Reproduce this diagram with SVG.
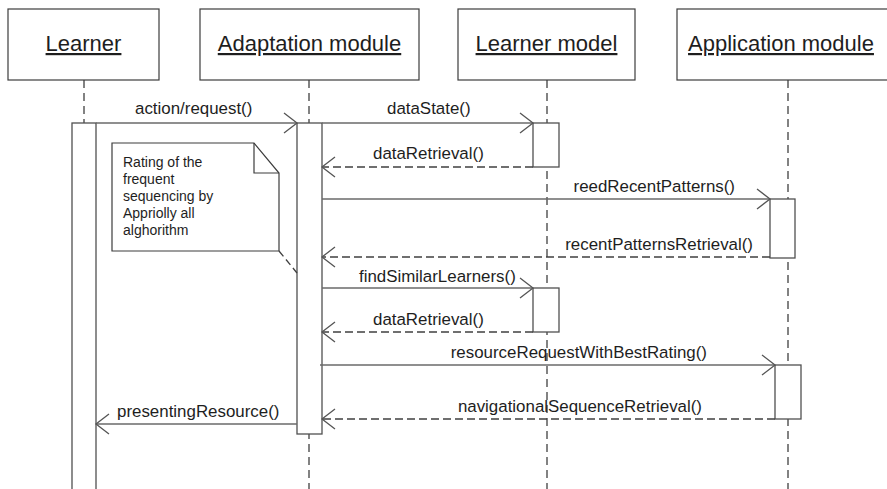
<svg xmlns="http://www.w3.org/2000/svg" width="887" height="489" viewBox="0 0 887 489">
<defs>
<style>
.box{fill:#fff;stroke:#3c3c3c;stroke-width:1.2}
.act{fill:#fff;stroke:#505050;stroke-width:1.3}
.life{stroke:#404040;stroke-width:1.3;stroke-dasharray:8,5;fill:none}
.msg{stroke:#6a6a6a;stroke-width:1.3;fill:none}
.ret{stroke:#404040;stroke-width:1.3;stroke-dasharray:8,4;fill:none}
.hd{font-family:"Liberation Sans",Arial,sans-serif;font-size:22px;fill:#1e1e1e;text-anchor:middle;text-decoration:underline}
.lb{font-family:"Liberation Sans",Arial,sans-serif;font-size:16.9px;fill:#1e1e1e}
.nt{font-family:"Liberation Sans",Arial,sans-serif;font-size:14px;fill:#1e1e1e}
</style>
<marker id="open" markerUnits="userSpaceOnUse" markerWidth="16" markerHeight="24" viewBox="-14 -11 16 22" refX="0" refY="0" orient="auto">
<path d="M-13,-10 L0,0 L-13,10" fill="none" stroke="#555" stroke-width="1.3"/>
</marker>
</defs>
<rect width="887" height="489" fill="#fff"/>
<g id="lifelines">
<line class="life" x1="84" y1="80" x2="84" y2="123"/>
<line class="life" x1="309" y1="80" x2="309" y2="489"/>
<line class="life" x1="547" y1="80" x2="547" y2="489"/>
<line class="life" x1="788" y1="80" x2="788" y2="489"/>
</g>
<g id="learner"><rect class="box" x="8" y="9" width="151" height="71"/><text class="hd" x="83.5" y="51">Learner</text></g>
<g id="adaptation"><rect class="box" x="200" y="9" width="219" height="71"/><text class="hd" x="309.5" y="51">Adaptation module</text></g>
<g id="learnermodel"><rect class="box" x="458" y="9" width="177" height="71"/><text class="hd" x="546.5" y="51">Learner model</text></g>
<g id="application"><rect class="box" x="677" y="9" width="215" height="71"/><text class="hd" x="781" y="51">Application module</text></g>
<g id="activations">
<rect class="act" x="72" y="123" width="24" height="380"/>
<rect class="act" x="297" y="123" width="25" height="311"/>
<rect class="act" x="533" y="123" width="26" height="44"/>
<rect class="act" x="770" y="199" width="25" height="59"/>
<rect class="act" x="533" y="288" width="26" height="44"/>
<rect class="act" x="775" y="365" width="26" height="54"/>
</g>
<g id="note">
<path class="box" d="M112,143 L254,143 L279,173 L279,251 L112,251 Z"/>
<path d="M254,143 L254,173 L279,173" fill="none" stroke="#3c3c3c" stroke-width="1.2"/>
<line x1="279" y1="251" x2="297" y2="273" stroke="#404040" stroke-width="1.3" stroke-dasharray="7,4"/>
<text class="nt" x="123" y="167">Rating of the</text>
<text class="nt" x="123" y="184">frequent</text>
<text class="nt" x="123" y="201">sequencing by</text>
<text class="nt" x="123" y="218">Appriolly all</text>
<text class="nt" x="123" y="235">alghorithm</text>
</g>
<g id="connectors">
<line class="msg" x1="96" y1="123" x2="297" y2="123" marker-end="url(#open)"/>
<line class="msg" x1="322" y1="123" x2="533" y2="123" marker-end="url(#open)"/>
<line class="ret" x1="533" y1="167" x2="322" y2="167" marker-end="url(#open)"/>
<line class="msg" x1="322" y1="199" x2="770" y2="199" marker-end="url(#open)"/>
<line class="ret" x1="770" y1="257" x2="322" y2="257" marker-end="url(#open)"/>
<line class="msg" x1="322" y1="288" x2="533" y2="288" marker-end="url(#open)"/>
<line class="ret" x1="533" y1="332" x2="322" y2="332" marker-end="url(#open)"/>
<line class="msg" x1="320" y1="365" x2="775" y2="365" marker-end="url(#open)"/>
<line class="ret" x1="775" y1="419" x2="322" y2="419" marker-end="url(#open)"/>
<line class="msg" x1="297" y1="424" x2="96" y2="424" marker-end="url(#open)"/>
</g>
<g id="labels">
<text class="lb" x="135" y="114">action/request()</text>
<text class="lb" x="387" y="114">dataState()</text>
<text class="lb" x="373" y="159">dataRetrieval()</text>
<text class="lb" x="735" y="192" text-anchor="end">reedRecentPatterns()</text>
<text class="lb" x="753" y="250" text-anchor="end">recentPatternsRetrieval()</text>
<text class="lb" x="359" y="282">findSimilarLearners()</text>
<text class="lb" x="373" y="325">dataRetrieval()</text>
<text class="lb" x="707" y="358" text-anchor="end">resourceRequestWithBestRating()</text>
<text class="lb" x="702" y="412" text-anchor="end">navigationalSequenceRetrieval()</text>
<text class="lb" x="117" y="417">presentingResource()</text>
</g>
</svg>
